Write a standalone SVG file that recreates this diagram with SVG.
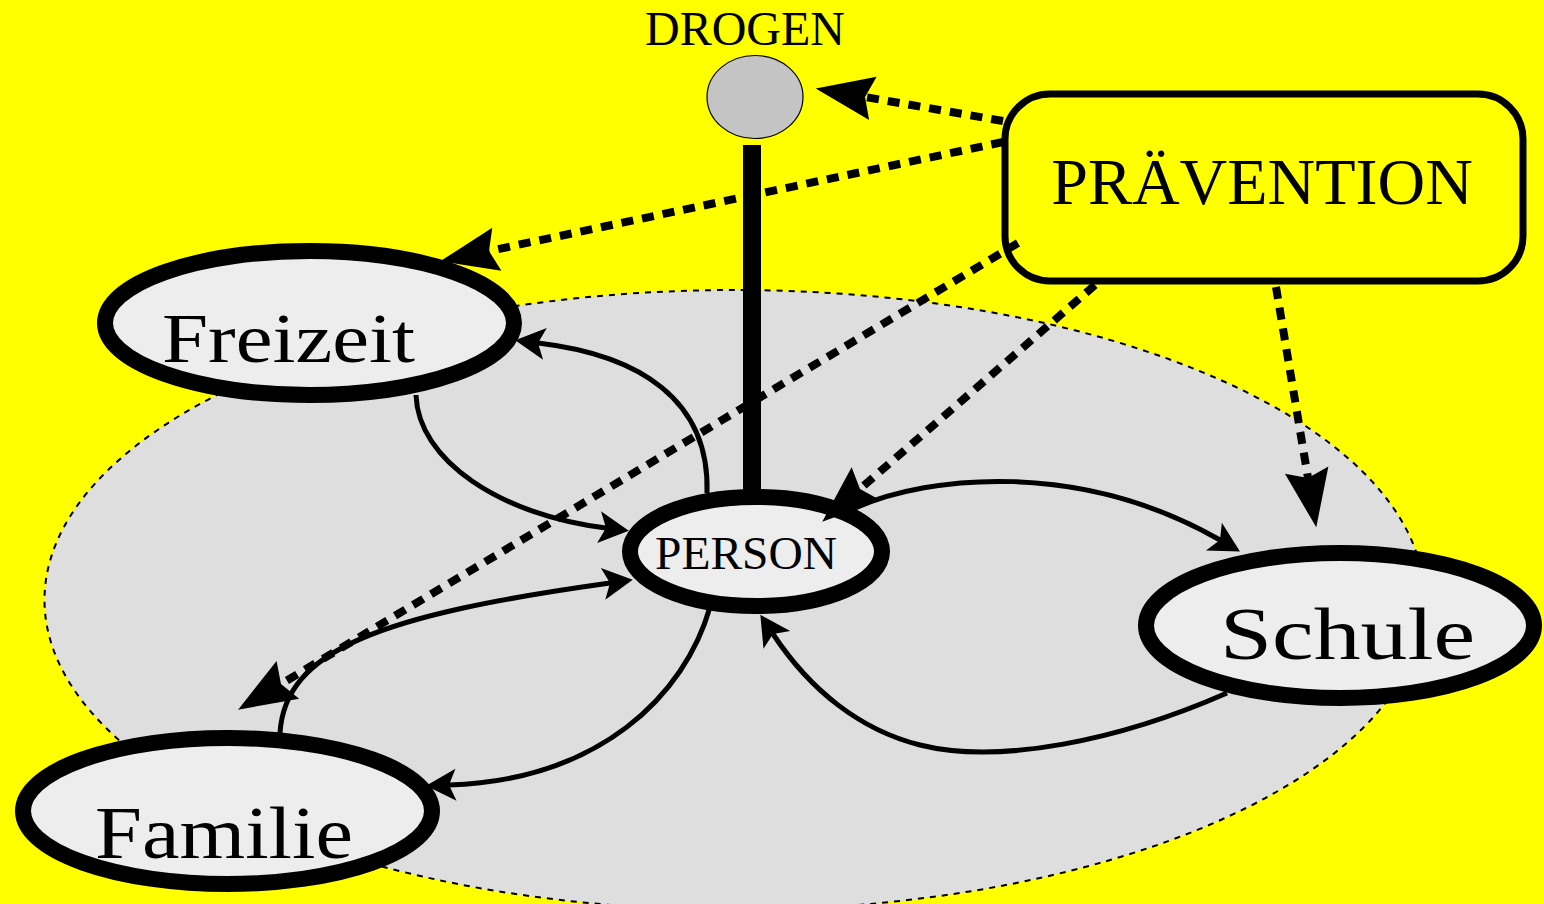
<svg xmlns="http://www.w3.org/2000/svg" width="1544" height="904" viewBox="0 0 1544 904">
  <style>
    .lbl { font-family: "Liberation Serif", "Times New Roman", serif; fill: #000; }
    .node { fill: #ededed; stroke: #000; stroke-width: 16; }
    .solid { fill: none; stroke: #000; stroke-width: 5; marker-end: url(#arrS); }
    .dash { fill: none; stroke: #000; stroke-width: 8; stroke-dasharray: 12 9; marker-end: url(#arrD); }
  </style>
  <defs>
    <marker id="arrS" markerUnits="userSpaceOnUse" orient="auto" markerWidth="60" markerHeight="60" refX="0" refY="0" overflow="visible">
      <path d="M23,0 L-7,-16 L0,0 L-7,16 Z" fill="#000"/>
    </marker>
    <marker id="arrD" markerUnits="userSpaceOnUse" orient="auto" markerWidth="120" markerHeight="120" refX="0" refY="0" overflow="visible">
      <path d="M50,0 L-8,-22 L0,0 L-8,22 Z" fill="#000"/>
    </marker>
  </defs>

  <rect x="0" y="0" width="1544" height="904" fill="#ffff00"/>

  <g id="umfeld">
    <ellipse cx="734.5" cy="600" rx="690" ry="310" fill="#dedede" stroke="#000" stroke-width="2" stroke-dasharray="6 6"/>
  </g>

  <g id="drogen">
    <text class="lbl" x="745" y="45" font-size="48" text-anchor="middle">DROGEN</text>
    <ellipse cx="755" cy="97" rx="48" ry="41.5" fill="#c4c4c4" stroke="#000" stroke-width="1.2"/>
    <rect x="743" y="145" width="18" height="352" fill="#000"/>
  </g>

  <g id="praevention">
    <rect x="1005" y="94" width="518" height="187" rx="45" ry="45" fill="none" stroke="#000" stroke-width="7"/>
    <text class="lbl" x="1262" y="204" font-size="66" text-anchor="middle">PRÄVENTION</text>
  </g>

  <g id="freizeit">
    <ellipse class="node" cx="309.5" cy="323" rx="204.5" ry="72"/>
    <text class="lbl" x="162" y="362" font-size="70" textLength="253" lengthAdjust="spacingAndGlyphs">Freizeit</text>
  </g>

  <g id="person">
    <ellipse class="node" cx="756" cy="551.5" rx="126" ry="54.5" stroke-width="14"/>
    <text class="lbl" x="655" y="569" font-size="47" textLength="182" lengthAdjust="spacingAndGlyphs">PERSON</text>
  </g>

  <g id="schule">
    <ellipse class="node" cx="1340" cy="625.5" rx="194" ry="72.5"/>
    <text class="lbl" x="1220" y="659" font-size="74" textLength="255" lengthAdjust="spacingAndGlyphs">Schule</text>
  </g>

  <g id="familie">
    <ellipse class="node" cx="227.5" cy="811" rx="204.5" ry="73"/>
    <text class="lbl" x="95" y="858" font-size="75" textLength="258" lengthAdjust="spacingAndGlyphs">Familie</text>
  </g>

  <g id="connectors">
    <path class="solid" d="M416,395 C418,460 500,515 606,528"/>
    <path class="solid" d="M707,493 C710,400 640,355 538,343"/>
    <path class="solid" d="M855,508 C930,475 1080,460 1220,540"/>
    <path class="solid" d="M1227,693 C1120,740 1000,765 920,745 C860,730 810,690 773,634"/>
    <path class="solid" d="M710,607 C685,695 600,780 449,785"/>
    <path class="solid" d="M280,733 C285,650 380,615 610,583"/>

    <path class="dash" d="M1003,121 L865,97"/>
    <path class="dash" d="M1003,142 L489,251"/>
    <path class="dash" d="M1018,243 L281,684"/>
    <path class="dash" d="M1095,285 L860,489"/>
    <path class="dash" d="M1276,287 L1308,478"/>
  </g>
</svg>
